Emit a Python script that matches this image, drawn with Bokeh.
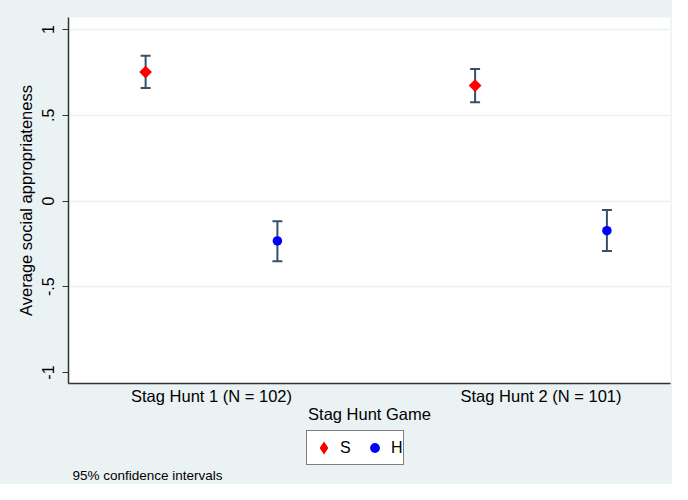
import numpy as np
from bokeh.plotting import figure
from bokeh.layouts import column
from bokeh.models import (ColumnDataSource, Whisker, TeeHead, FixedTicker,
                          Legend, LegendItem, Label, Range1d)
from bokeh.embed import file_html
from bokeh.resources import INLINE

# ---- data ----
games = ["Stag Hunt 1 (N = 102)", "Stag Hunt 2 (N = 101)"]
game_pos = [1, 2]
s_mean = [0.752, 0.673]
s_lower = [0.659, 0.576]
s_upper = [0.847, 0.769]
h_mean = [-0.233, -0.173]
h_lower = [-0.351, -0.292]
h_upper = [-0.118, -0.052]
y_ticks = [-1, -0.5, 0, 0.5, 1]
y_tick_labels = ["-1", "-.5", "0", ".5", "1"]

offset = 0.2
FONT = "Liberation Sans"
BG = "#EAF2F3"
CI = "#34506E"
AX = "#333333"

W = 672
H_MAIN = 426
H_LEG = 58

p = figure(width=W, height=H_MAIN, output_backend="svg", toolbar_location=None,
           x_range=Range1d(0.566, 2.393), y_range=Range1d(-1.064, 1.070),
           min_border_left=68, min_border_right=2, min_border_top=17,
           min_border_bottom=43, background_fill_color="white",
           border_fill_color=BG, outline_line_color=None)

src_s = ColumnDataSource(dict(x=[g - offset for g in game_pos], y=s_mean,
                              lo=s_lower, hi=s_upper))
src_h = ColumnDataSource(dict(x=[g + offset for g in game_pos], y=h_mean,
                              lo=h_lower, hi=h_upper))

for src in (src_s, src_h):
    w = Whisker(base="x", upper="hi", lower="lo", source=src, dimension="height",
                line_color=CI, line_width=2,
                upper_head=TeeHead(size=10, line_color=CI, line_width=2),
                lower_head=TeeHead(size=10, line_color=CI, line_width=2))
    p.add_layout(w)

p.scatter("x", "y", source=src_s, marker="square", size=9, angle=np.pi / 4,
          fill_color="red", line_color=None)
p.scatter("x", "y", source=src_h, marker="circle", size=9.5,
          fill_color="blue", line_color=None)

# y axis
ya = p.yaxis[0]
ya.ticker = FixedTicker(ticks=y_ticks)
ya.major_label_overrides = dict(zip(y_ticks, y_tick_labels))
ya.major_label_orientation = "parallel"
ya.axis_label = "Average social appropriateness"
ya.axis_label_text_font = FONT
ya.axis_label_text_font_style = "normal"
ya.axis_label_text_font_size = "16.5px"
ya.axis_label_text_color = "black"
ya.major_label_text_font = FONT
ya.major_label_text_font_size = "16px"
ya.major_label_text_color = "black"
ya.major_tick_out = 6
ya.major_tick_in = 0
ya.minor_tick_out = 0
ya.minor_tick_in = 0
ya.major_label_standoff = 8
ya.axis_label_standoff = 5
ya.axis_line_color = AX
ya.axis_line_width = 1.5
ya.major_tick_line_color = AX
ya.major_tick_line_width = 1.2

# x axis
xa = p.xaxis[0]
xa.ticker = FixedTicker(ticks=game_pos)
xa.major_label_overrides = dict(zip(game_pos, games))
xa.axis_label = "Stag Hunt Game"
xa.axis_label_text_font = FONT
xa.axis_label_text_font_style = "normal"
xa.axis_label_text_font_size = "16.5px"
xa.axis_label_text_color = "black"
xa.major_label_text_font = FONT
xa.major_label_text_font_size = "16.5px"
xa.major_label_text_color = "black"
xa.major_tick_out = 0
xa.major_tick_in = 0
xa.minor_tick_out = 0
xa.minor_tick_in = 0
xa.major_label_standoff = 3
xa.axis_label_standoff = -3
xa.axis_line_color = AX
xa.axis_line_width = 1.5

p.xgrid.visible = False
p.ygrid.ticker = FixedTicker(ticks=[-0.5, 0, 0.5, 1])
p.ygrid.grid_line_color = BG
p.ygrid.grid_line_width = 1.5

# ---- legend strip below the plot (its frame is aligned with the main frame) ----
p2 = figure(width=W, height=H_LEG, output_backend="svg", toolbar_location=None,
            x_range=Range1d(0, 1), y_range=Range1d(0, 1),
            x_axis_type=None, y_axis_type=None,
            min_border_left=0, min_border_right=0, min_border_top=0,
            min_border_bottom=0, background_fill_color=None,
            border_fill_color=BG, outline_line_color=None)
p2.grid.visible = False

leg_s = p2.scatter(x=[np.nan], y=[np.nan], marker="diamond",
                   fill_color="red", line_color=None)
leg_h = p2.scatter(x=[np.nan], y=[np.nan], marker="circle",
                   fill_color="blue", line_color="white", line_width=3.4)

legend = Legend(items=[LegendItem(label="S", renderers=[leg_s]),
                       LegendItem(label="H", renderers=[leg_h])],
                orientation="horizontal", location=(238, 19),
                glyph_width=33, glyph_height=33, padding=0, spacing=6,
                label_standoff=0, label_width=12, margin=0,
                label_text_font=FONT, label_text_font_size="16px",
                label_text_color="black",
                border_line_color="black", border_line_width=1,
                background_fill_color="white", background_fill_alpha=1)
p2.add_layout(legend)

note = Label(x=4, y=9, x_units="screen", y_units="screen",
             text="95% confidence intervals", text_font=FONT,
             text_font_size="13.5px", text_baseline="middle", text_color="black")
p2.add_layout(note)

layout = column(p, p2, spacing=0, styles={"background-color": BG})
open("out.html", "w").write(file_html(layout, INLINE))
